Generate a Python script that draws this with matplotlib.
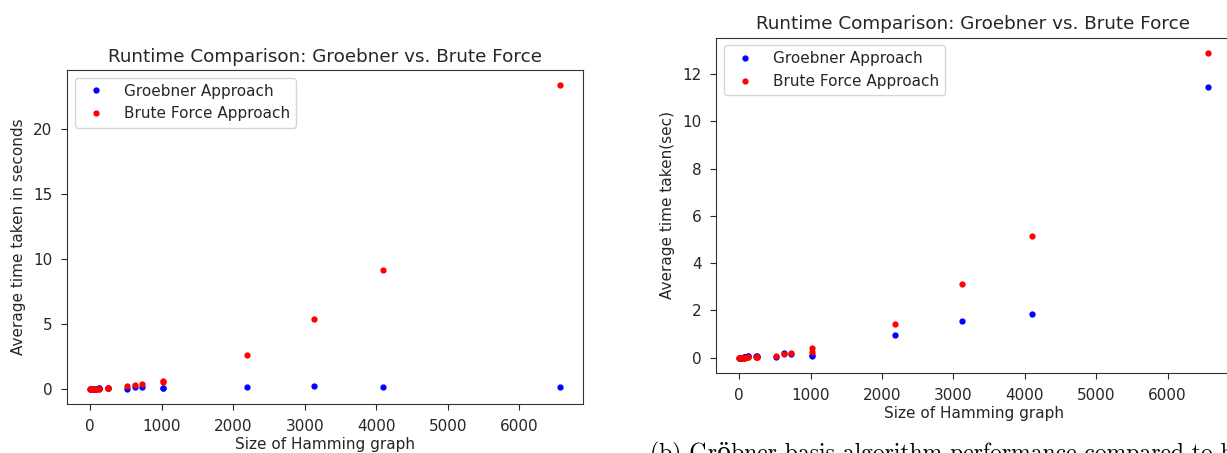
import matplotlib
matplotlib.use("Agg")
import matplotlib.pyplot as plt

# ---- data: left panel ----
sizes_left = [4, 8, 9, 16, 16, 25, 27, 32, 64, 64, 81, 125, 128, 243, 256, 256,
              512, 625, 729, 1024, 1024, 2187, 3125, 4096, 6561]
groebner_left = [0.002, 0.003, 0.003, 0.005, 0.004, 0.006, 0.008, 0.01, 0.02, 0.015,
                 0.02, 0.05, 0.09, 0.08, 0.1, 0.06, 0.0, 0.15, 0.12, 0.03, 0.08,
                 0.13, 0.25, 0.15, 0.15]
brute_left = [0.0, 0.0, 0.0, 0.0, 0.0, 0.0, 0.0, 0.0, 0.01, 0.01, 0.01, 0.02, 0.02,
              0.03, 0.04, 0.03, 0.2, 0.3, 0.4, 0.62, 0.5, 2.6, 5.35, 9.15, 23.4]

# ---- data: right panel ----
sizes_right = [4, 8, 9, 16, 16, 25, 27, 32, 64, 64, 81, 125, 128, 243, 256, 256,
               512, 625, 729, 1024, 1024, 2187, 3125, 4096, 6561]
groebner_right = [0.002, 0.003, 0.003, 0.005, 0.004, 0.006, 0.008, 0.01, 0.03, 0.02,
                  0.05, 0.06, 0.08, 0.07, 0.09, 0.05, 0.05, 0.2, 0.15, 0.07, 0.1,
                  0.97, 1.57, 1.83, 11.46]
brute_right = [0.0, 0.0, 0.0, 0.0, 0.0, 0.0, 0.0, 0.0, 0.01, 0.01, 0.01, 0.02, 0.02,
               0.02, 0.03, 0.02, 0.06, 0.15, 0.2, 0.42, 0.25, 1.44, 3.13, 5.15, 12.9]

title = "Runtime Comparison: Groebner vs. Brute Force"
xlabel = "Size of Hamming graph"
ylabel_left = "Average time taken in seconds"
ylabel_right = "Average time taken(sec)"
caption = "(b) Gröbner basis algorithm performance compared to brute force"

TXT = "#262626"
FS = 11.0
plt.rcParams.update({
    "font.family": ["DejaVu Sans"],
    "font.size": FS,
    "text.color": TXT,
    "axes.labelcolor": TXT,
    "xtick.color": TXT,
    "ytick.color": TXT,
    "axes.edgecolor": "#333333",
    "xtick.major.size": 4.5,
    "ytick.major.size": 4.5,
    "xtick.major.pad": 6.5,
    "ytick.major.pad": 6.0,
})

fig = plt.figure(figsize=(12.27, 4.53), dpi=100)
W, H = 1227, 453

def panel(rect_px, xs, g, b, ylabel):
    l, t, r, bt = rect_px
    ax = fig.add_axes([l / W, (H - bt) / H, (r - l) / W, (bt - t) / H])
    ax.plot(xs, g, ".", color="#0000ff", markersize=7, label="Groebner Approach")
    ax.plot(xs, b, ".", color="#ff0000", markersize=7, label="Brute Force Approach")
    ax.set_title(title, fontsize=FS * 1.2, color=TXT, pad=6)
    ax.set_xlabel(xlabel, fontsize=FS, labelpad=2)
    ax.set_ylabel(ylabel, fontsize=FS, labelpad=5)
    ax.set_xticks([0, 1000, 2000, 3000, 4000, 5000, 6000])
    ax.tick_params(labelsize=FS)
    ax.legend(loc="upper left", fontsize=FS)
    return ax

ax1 = panel((67, 70, 583, 404), sizes_left, groebner_left, brute_left, ylabel_left)
ax2 = panel((716, 37.5, 1231, 373), sizes_right, groebner_right, brute_right, ylabel_right)
ax1.set_yticks([0, 5, 10, 15, 20])
ax2.set_yticks([0, 2, 4, 6, 8, 10, 12])

fig.text(650 / W, (H - 442) / H, caption, fontsize=17, va="top", ha="left",
         family=["cmr10", "DejaVu Serif"], color="black")

fig.savefig("out.png", dpi=100)
